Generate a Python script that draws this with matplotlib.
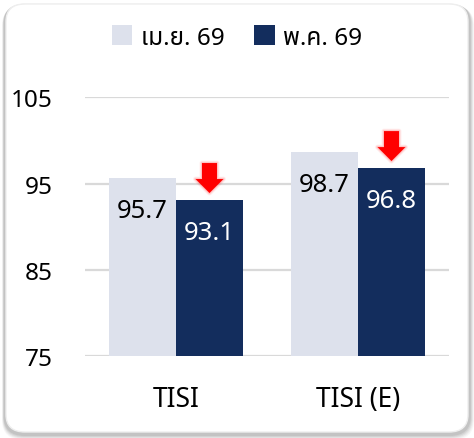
import matplotlib
matplotlib.use("Agg")
import matplotlib.pyplot as plt
from matplotlib import font_manager, transforms
from matplotlib.patches import Patch, Polygon, FancyBboxPatch

# ---------------- data ----------------
categories = ["TISI", "TISI (E)"]
series_names = ["เม.ย. 69", "พ.ค. 69"]
apr_values = [95.7, 98.7]
may_values = [93.1, 96.8]
y_ticks = [75, 85, 95, 105]

# ---------------- fonts ----------------
def find_thai_font():
    try:
        from fontTools.ttLib import TTFont
    except Exception:
        return None
    cands = []
    for f in font_manager.fontManager.ttflist:
        try:
            tt = TTFont(f.fname, fontNumber=0, lazy=True)
            cmap = tt.getBestCmap() or {}
            if 0x0E21 in cmap and 0x0E22 in cmap:
                cands.append(f.name)
        except Exception:
            continue
    if not cands:
        return None
    for pref in ["Noto Sans Thai", "Noto Sans Thai UI", "Sarabun", "Kanit", "Prompt"]:
        if pref in cands:
            return pref
    return cands[0]

thai = find_thai_font()
fams = ([thai] if thai else []) + ["Noto Sans", "DejaVu Sans"]
plt.rcParams["font.family"] = fams

LIGHT = "#dde1ec"
NAVY = "#132d5d"
W, H = 474, 439
fig = plt.figure(figsize=(W / 100, H / 100), dpi=100)
fig.patch.set_facecolor("white")

# rounded frame with soft shadow
for i, a in enumerate([0.03, 0.04, 0.05, 0.06, 0.07]):
    d = 5 - i
    fig.patches.append(FancyBboxPatch(((4 - d * 0.4) / W, (3 - d) / H), (466 + d * 1.2) / W, (432 + d * 0.4) / H,
                                      boxstyle="round,pad=0,rounding_size=0.045",
                                      transform=fig.transFigure, facecolor="black",
                                      edgecolor="none", alpha=a, zorder=0))
fig.patches.append(FancyBboxPatch((6 / W, 6 / H), 462 / W, 428 / H,
                                  boxstyle="round,pad=0,rounding_size=0.04",
                                  transform=fig.transFigure, facecolor="white",
                                  edgecolor="#eeeeee", linewidth=1, zorder=1))

ax_l, ax_r = 85 / W, 449 / W
ax_t, ax_b = 1 - 98.3 / H, 1 - 357.3 / H
ax = fig.add_axes([ax_l, ax_b, ax_r - ax_l, ax_t - ax_b])
ax.set_facecolor("none")
ax.set_zorder(2)

bw = 0.368
xs = list(range(len(categories)))
ax.bar([x - bw / 2 for x in xs], apr_values, width=bw, color=LIGHT, zorder=3)
ax.bar([x + bw / 2 for x in xs], may_values, width=bw, color=NAVY, zorder=3)

ax.set_ylim(y_ticks[0], y_ticks[-1])
ax.set_xlim(-0.5, 1.5)
ax.set_yticks(y_ticks)
ax.set_yticklabels([str(t) for t in y_ticks], fontsize=17.5, color="black")
ax.yaxis.grid(True, color="#d9d9d9", linewidth=1.6, zorder=0)
ax.set_axisbelow(True)
ax.tick_params(axis="y", length=0, pad=23)
ax.set_xticks(xs)
ax.set_xticklabels(categories, fontsize=19, color="black")
ax.tick_params(axis="x", length=0, pad=21)
for s in ax.spines.values():
    s.set_visible(False)

# value labels
for x, v in zip(xs, apr_values):
    ax.annotate(f"{v:.1f}", xy=(x - bw / 2, v), xytext=(0, -23.5), textcoords="offset points",
                ha="center", va="center", fontsize=18.5, color="black", zorder=4)
for x, v in zip(xs, may_values):
    ax.annotate(f"{v:.1f}", xy=(x + bw / 2, v), xytext=(0, -23.5), textcoords="offset points",
                ha="center", va="center", fontsize=18.5, color="white", zorder=4)

# red down arrows above navy bars (vertices in pixels relative to bar top)
arrow_px = [(0, 7), (14, 21), (7.5, 21), (7.5, 37), (-7.5, 37), (-7.5, 21), (-14, 21)]
arrow_in = [(px / 100, py / 100) for px, py in arrow_px]
for x, v in zip(xs, may_values):
    tr = fig.dpi_scale_trans + transforms.ScaledTranslation(x + bw / 2, v, ax.transData)
    for k, a in [(3, 0.08), (2, 0.12), (1, 0.18)]:
        glow = Polygon(arrow_in, closed=True, transform=tr, facecolor="none",
                       edgecolor="#ff4040", linewidth=k * 1.2, alpha=a, zorder=4,
                       joinstyle="round")
        ax.add_patch(glow)
        glow.set_clip_on(False)
    p = Polygon(arrow_in, closed=True, transform=tr, facecolor="#ff0000",
                edgecolor="none", zorder=5)
    p.set_clip_on(False)
    ax.add_patch(p)

# legend
handles = [Patch(facecolor=LIGHT, edgecolor="none"), Patch(facecolor=NAVY, edgecolor="none")]
leg = fig.legend(handles, series_names, loc="center", bbox_to_anchor=(0.5, 1 - 38.5 / H),
                 ncol=2, frameon=False, fontsize=17.5, handlelength=0.85, handleheight=0.85,
                 handletextpad=0.35, columnspacing=1.2, borderaxespad=0)
leg.set_zorder(5)

fig.savefig("out.png", dpi=100)
